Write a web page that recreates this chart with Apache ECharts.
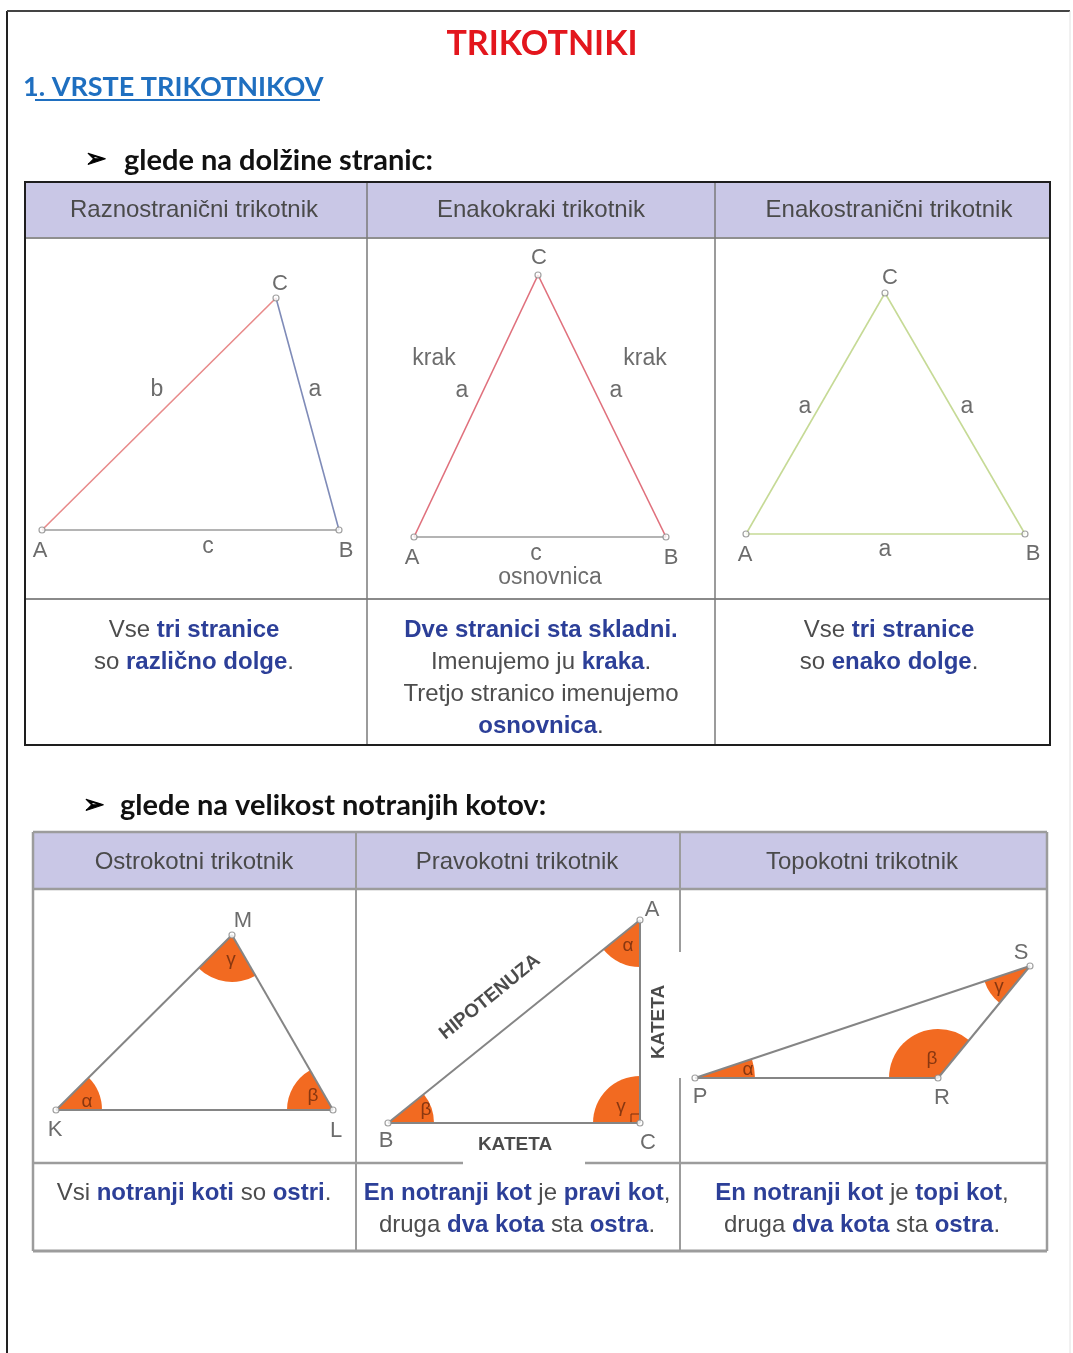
<!DOCTYPE html>
<html>
<head>
<meta charset="utf-8">
<title>Trikotniki</title>
<script src="https://cdn.jsdelivr.net/npm/echarts@6.0.0/dist/echarts.min.js"></script>
<style>
  html, body { margin: 0; padding: 0; background: #fff; }
  #chart { width: 1073px; height: 1353px; }
</style>
</head>
<body>
<div id="chart"></div>
<script>
// ---------- data ----------
const naslov = 'TRIKOTNIKI';
const poglavje = '1. VRSTE TRIKOTNIKOV';
const podnaslovi = ['glede na dolžine stranic:', 'glede na velikost notranjih kotov:'];

const glaveStranice = ['Raznostranični trikotnik', 'Enakokraki trikotnik', 'Enakostranični trikotnik'];
const glaveKoti = ['Ostrokotni trikotnik', 'Pravokotni trikotnik', 'Topokotni trikotnik'];

const opisStranice = [
  ['Vse {k|tri stranice}', 'so {k|različno dolge}.'],
  ['{k|Dve stranici sta skladni.}', 'Imenujemo ju {k|kraka}.', 'Tretjo stranico imenujemo', '{k|osnovnica}.'],
  ['Vse {k|tri stranice}', 'so {k|enako dolge}.'],
];
const opisKoti = [
  ['Vsi {k|notranji koti} so {k|ostri}.'],
  ['{k|En notranji kot} je {k|pravi kot},', 'druga {k|dva kota} sta {k|ostra}.'],
  ['{k|En notranji kot} je {k|topi kot},', 'druga {k|dva kota} sta {k|ostra}.'],
];

// triangle vertices [x, y]
const raznostranicni = [[42, 530], [339, 530], [276, 298]];   // A B C
const enakokraki = [[414, 537], [666, 537], [538, 275]];       // A B C
const enakostranicni = [[746, 534], [1025, 534], [885, 293]];  // A B C
const ostrokotni = [[56, 1110], [333, 1110], [232, 935]];      // K L M
const pravokotni = [[388, 1123], [640, 1123], [640, 920]];     // B C A
const topokotni = [[695, 1078], [938, 1078], [1030, 966]];     // P R S

const oglisca = [
  ['A', 40, 551], ['B', 346, 551], ['C', 280, 284],
  ['A', 412, 558], ['B', 671, 558], ['C', 539, 258],
  ['A', 745, 555], ['B', 1033, 554], ['C', 890, 278],
  ['K', 55, 1130], ['L', 336, 1131], ['M', 243, 921],
  ['B', 386, 1141], ['C', 648, 1143], ['A', 652, 910],
  ['P', 700, 1097], ['R', 942, 1098], ['S', 1021, 953],
];
const stranice = [
  ['b', 157, 390], ['a', 315, 390], ['c', 208, 547],
  ['krak', 434, 359], ['a', 462, 391], ['krak', 645, 359], ['a', 616, 391],
  ['c', 536, 554], ['osnovnica', 550, 578],
  ['a', 805, 407], ['a', 967, 407], ['a', 885, 550],
];
const koti = [
  ['α', 87, 1102], ['β', 313, 1096], ['γ', 231, 960],
  ['β', 426, 1110], ['γ', 621, 1107], ['α', 628, 946],
  ['α', 748, 1070], ['β', 932, 1059], ['γ', 999, 987],
];
const oznakeKatet = [['HIPOTENUZA', 490, 997, 39], ['KATETA', 515, 1145, 0], ['KATETA', 659, 1022, 90]];

// ---------- styles ----------
const SANS = '"Liberation Sans", Arial, Helvetica, sans-serif';
const HEAD = 'Lato, "Open Sans", sans-serif';
const GRAY = '#4d4d4d';
const BLUE = '#2c3f98';
const ORANGE = '#f26a21';

const triangles = [raznostranicni, enakokraki, enakostranicni, ostrokotni, pravokotni, topokotni];
const sideColors = [
  ['#9b9b9b', '#7f8bb8', '#e88a8a'],
  ['#9b9b9b', '#e0707c', '#e0707c'],
  ['#c6da96', '#c6da96', '#c6da96'],
  ['#858585', '#858585', '#858585'],
  ['#858585', '#858585', '#858585'],
  ['#858585', '#858585', '#858585'],
];
// wedge radius per vertex of the second row triangles
const wedgeRadius = { 3: [46, 46, 47], 4: [46, 47, 47], 5: [60, 49, 48] };

const sideData = [];
const pointData = [];
const wedgeData = [];
triangles.forEach((tri, t) => {
  for (let i = 0; i < 3; i++) {
    sideData.push({
      coords: [tri[i], tri[(i + 1) % 3]],
      lineStyle: { color: sideColors[t][i], width: t < 3 ? 1.6 : 2, opacity: 1 },
    });
    pointData.push(tri[i]);
    if (wedgeRadius[t]) {
      const p = tri[(i + 2) % 3], q = tri[(i + 1) % 3];
      wedgeData.push([tri[i][0], tri[i][1], p[0], p[1], q[0], q[1], t, i]);
    }
  }
});

// ---------- layout (graphic) ----------
const g = [];
const line = (x1, y1, x2, y2, stroke, lineWidth) =>
  g.push({ type: 'line', silent: true, shape: { x1, y1, x2, y2 }, style: { stroke, lineWidth } });
const text = (x, y, str, style) =>
  g.push({ type: 'text', silent: true, x, y, style: Object.assign({ text: str, align: 'center', verticalAlign: 'middle' }, style) });

// page frame
line(7, 11, 7, 1353, '#222', 2);
line(7, 11, 1070, 11, '#444', 2);
line(1070, 11, 1070, 1353, '#e2e2e2', 1);

text(542, 44, naslov, { fontFamily: HEAD, fontWeight: 'bold', fontSize: 34, fill: '#e3161d' });
text(23, 87, poglavje, { fontFamily: HEAD, fontWeight: 'bold', fontSize: 27, fill: '#1f6fc0', align: 'left' });
line(35, 100, 320, 100, '#1f6fc0', 2);

text(85, 160, '➢', { fontFamily: '"DejaVu Sans"', fontWeight: 'bold', fontSize: 26, fill: '#000', stroke: '#000', lineWidth: 1, align: 'left' });
text(124, 161, podnaslovi[0], { fontFamily: HEAD, fontWeight: 'bold', fontSize: 29, fill: '#111', align: 'left' });
text(83, 806, '➢', { fontFamily: '"DejaVu Sans"', fontWeight: 'bold', fontSize: 26, fill: '#000', stroke: '#000', lineWidth: 1, align: 'left' });
text(120, 806, podnaslovi[1], { fontFamily: HEAD, fontWeight: 'bold', fontSize: 29, fill: '#111', align: 'left' });

const rich = { k: { fill: BLUE, fontWeight: 'bold', fontSize: 24, fontFamily: SANS, lineHeight: 32 } };
const desc = (x, y, lines) =>
  g.push({
    type: 'text', silent: true, x, y,
    style: { text: lines.join('\n'), align: 'center', verticalAlign: 'top', fontFamily: SANS, fontSize: 24, lineHeight: 32, fill: GRAY, rich },
  });

// table 1
g.push({ type: 'rect', silent: true, shape: { x: 25, y: 182, width: 1025, height: 56 }, style: { fill: '#c9c7e6' } });
line(25, 238, 1050, 238, '#8f8f8f', 2);
line(25, 599, 1050, 599, '#8a8a8a', 2);
line(367, 182, 367, 745, '#7a7a7a', 1.5);
line(715, 182, 715, 745, '#7a7a7a', 1.5);
g.push({ type: 'rect', silent: true, shape: { x: 25, y: 182, width: 1025, height: 563 }, style: { fill: null, stroke: '#1e1e1e', lineWidth: 2 } });
[194, 541, 889].forEach((cx, i) => {
  text(cx, 210, glaveStranice[i], { fontFamily: SANS, fontSize: 24, fill: '#4a4a4a' });
  desc(cx, 614, opisStranice[i]);
});

// table 2
const T2 = '#9c9c9c';
g.push({ type: 'rect', silent: true, shape: { x: 33, y: 832, width: 1014, height: 57 }, style: { fill: '#c9c7e6' } });
line(33, 832, 1047, 832, T2, 2.5);
line(33, 889, 1047, 889, T2, 2.5);
line(33, 832, 33, 1251, T2, 2.5);
line(1047, 832, 1047, 1251, T2, 2.5);
line(33, 1251, 1047, 1251, T2, 3);
line(356, 832, 356, 1251, T2, 2);
line(680, 832, 680, 952, T2, 2);
line(680, 1078, 680, 1251, T2, 2);
line(33, 1163, 463, 1163, T2, 2.5);
line(585, 1163, 1047, 1163, T2, 2.5);
[194, 517, 862].forEach((cx, i) => {
  text(cx, 862, glaveKoti[i], { fontFamily: SANS, fontSize: 24, fill: '#4a4a4a' });
  desc(cx, 1177, opisKoti[i]);
});

// ---------- chart ----------
const labelSeries = (data, label) => ({
  type: 'scatter',
  data: data.map((d) => ({ name: d[0], value: [d[1], d[2]], label: { rotate: d[3] || 0 } })),
  symbolSize: 1,
  itemStyle: { color: 'rgba(0,0,0,0)' },
  silent: true,
  z: 6,
  label: Object.assign({ show: true, position: 'inside', formatter: '{b}' }, label),
});

const option = {
  animation: false,
  grid: { left: 0, right: 0, top: 0, bottom: 0 },
  xAxis: { type: 'value', min: 0, max: 1073, show: false },
  yAxis: { type: 'value', min: 0, max: 1353, inverse: true, show: false },
  graphic: { elements: g },
  series: [
    {
      type: 'custom',
      silent: true,
      z: 2,
      data: wedgeData,
      renderItem(params, api) {
        const v = api.coord([api.value(0), api.value(1)]);
        const p = api.coord([api.value(2), api.value(3)]);
        const q = api.coord([api.value(4), api.value(5)]);
        const r = wedgeRadius[api.value(6)][api.value(7)];
        const a1 = Math.atan2(p[1] - v[1], p[0] - v[0]);
        const a2 = Math.atan2(q[1] - v[1], q[0] - v[0]);
        let d = a2 - a1;
        while (d > Math.PI) d -= 2 * Math.PI;
        while (d < -Math.PI) d += 2 * Math.PI;
        const start = d > 0 ? a1 : a2;
        const children = [{
          type: 'sector',
          shape: { cx: v[0], cy: v[1], r0: 0, r, startAngle: start, endAngle: start + Math.abs(d), clockwise: true },
          style: { fill: ORANGE },
        }];
        if (Math.abs(Math.abs(d) - Math.PI / 2) < 0.02) {
          const s = 9;
          const ux = Math.cos(a1) * s, uy = Math.sin(a1) * s;
          const wx = Math.cos(a2) * s, wy = Math.sin(a2) * s;
          children.push({
            type: 'polyline',
            shape: { points: [[v[0] + ux, v[1] + uy], [v[0] + ux + wx, v[1] + uy + wy], [v[0] + wx, v[1] + wy]] },
            style: { stroke: '#7a2e0e', lineWidth: 1, fill: null },
          });
        }
        return { type: 'group', children };
      },
    },
    {
      type: 'lines',
      coordinateSystem: 'cartesian2d',
      silent: true,
      z: 3,
      lineStyle: { opacity: 1 },
      data: sideData,
    },
    {
      type: 'scatter',
      data: pointData,
      symbol: 'circle',
      symbolSize: 6,
      silent: true,
      z: 4,
      itemStyle: { color: '#fff', borderColor: '#8a8a8a', borderWidth: 1.2 },
    },
    labelSeries(oglisca, { fontFamily: SANS, fontSize: 22, color: '#474747' }),
    labelSeries(stranice, { fontFamily: SANS, fontSize: 23, color: '#474747' }),
    labelSeries(koti, { fontFamily: SANS, fontSize: 19, color: '#6e2a0c' }),
    labelSeries(oznakeKatet, { fontFamily: SANS, fontWeight: 'bold', fontSize: 19, color: '#1e1e1e' }),
  ],
};

const myChart = echarts.init(document.getElementById('chart'), null, { renderer: 'canvas' });
myChart.setOption(option);
</script>
</body>
</html>
